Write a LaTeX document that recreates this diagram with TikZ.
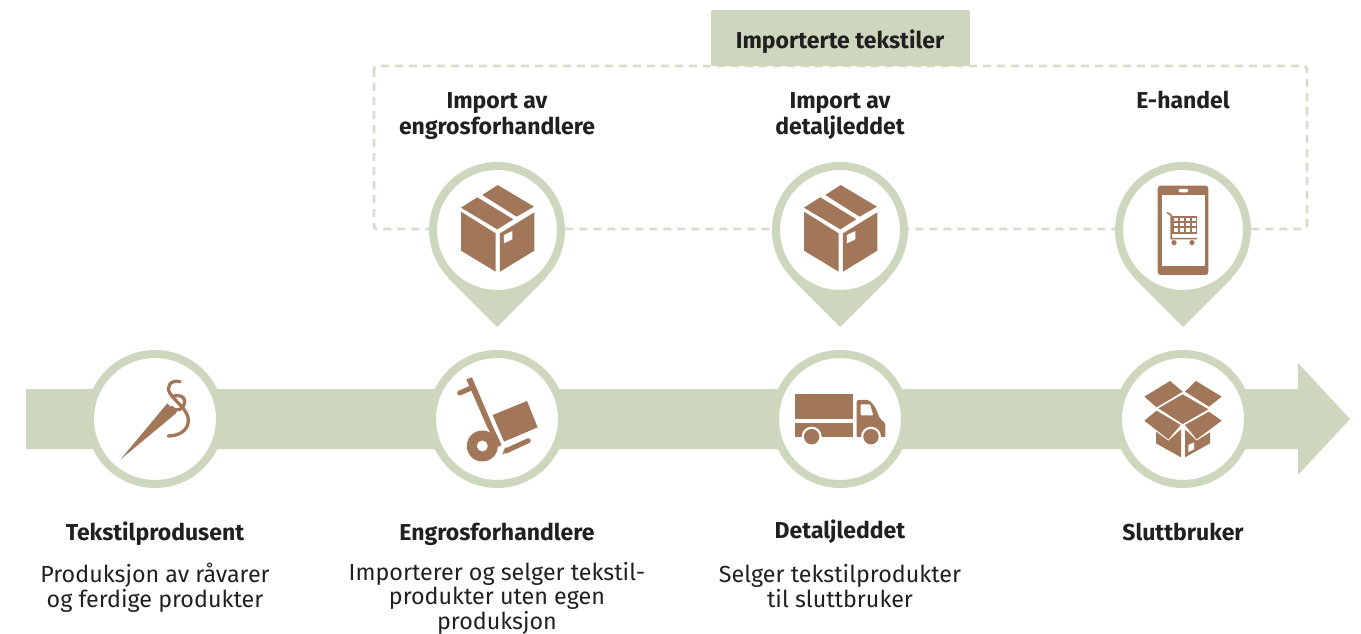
\documentclass[tikz,border=0pt]{standalone}
\usepackage{fontspec}
\setmainfont{Fira Sans}
\definecolor{sage}{HTML}{CCD7BE}
\definecolor{dashc}{HTML}{D6DEC9}
\definecolor{brown}{HTML}{A27659}
\definecolor{ink}{HTML}{231F20}
\tikzset{
  x=1pt,y=-1pt,
  boldtxt/.style={font=\fontsize{23}{26}\selectfont\bfseries,text=ink,align=center,inner sep=0pt},
  regtxt/.style={font=\fontsize{23.3}{25}\selectfont,text=ink,align=center,inner sep=0pt},
  ring/.style={circle,draw=sage,line width=8pt,fill=white,minimum size=130pt,inner sep=0pt},
  pinring/.style={ring,minimum size=128pt},
  icon/.style={fill=brown,draw=none},
  gap/.style={fill=white,draw=none},
  thread/.style={draw=brown,line width=3.3pt,line cap=round,fill=none},
}
\newcommand{\closedbox}{%
  \fill[icon] (172,105)--(218,75)--(327,140)--(275,170)--cycle;
  \fill[icon] (108,143)--(157,112)--(265,178)--(217,208)--cycle;
  \fill[icon] (108,155)--(212,220)--(212,335)--(108,272)--cycle;
  \fill[icon] (225,220)--(328,157)--(328,272)--(225,335)--cycle;
  \fill[gap] (237,225)--(262,213)--(262,238)--(237,250)--cycle;
}
\newcommand{\pin}[1]{%
  \fill[sage] (#1,327)--(#1-49,278)--(#1+49,278)--cycle;
  \node[pinring] at (#1,230) {};
}
\begin{document}
\begin{tikzpicture}
\useasboundingbox (0,0) rectangle (1361,634);
% main arrow
\fill[sage] (26,389)--(1298,389)--(1298,363)--(1350,419)--(1298,475)--(1298,449)--(26,449)--cycle;
% dashed frame
\draw[dashc,line width=2.6pt,dash pattern=on 8pt off 6pt,rounded corners=3pt] (374,66) rectangle (1307,229);
% tab
\fill[sage,rounded corners=2pt] (711,66)--(711,10)--(970,10)--(970,66)--cycle;
\node[boldtxt] (tab) at (840,42) {Importerte tekstiler};
% pins
\pin{497}\pin{840}\pin{1183}
% main rings
\node[ring] (c1) at (155,419) {};
\node[ring] (c2) at (497,419) {};
\node[ring] (c3) at (840,419) {};
\node[ring] (c4) at (1183,419) {};
% top labels
\node[boldtxt] (l1) at (497,116) {Import av\\engrosforhandlere};
\node[boldtxt] (l2) at (840,116) {Import av\\detaljleddet};
\node[boldtxt] (l3) at (1183,100) {E-handel};
% bottom labels
\node[boldtxt] (b1) at (155,534) {Tekstilprodusent};
\node[boldtxt] (b2) at (497,534) {Engrosforhandlere};
\node[boldtxt] (b3) at (840,532) {Detaljleddet};
\node[boldtxt] (b4) at (1183,532) {Sluttbruker};
\node[regtxt] (d1) at (155,587.5) {Produksjon av råvarer\\og ferdige produkter};
\node[regtxt] (d2) at (497,598) {Importerer og selger tekstil-\\[-0.5pt]produkter uten egen\\[-0.5pt]produksjon};
\node[regtxt] (d3) at (840,586.5) {Selger tekstilprodukter\\til sluttbruker};
% box icons
\begin{scope}[shift={(425,160)},x=0.3333pt,y=-0.3333pt]\closedbox\end{scope}
\begin{scope}[shift={(768,160)},x=0.3333pt,y=-0.3333pt]\closedbox\end{scope}
% phone
\begin{scope}[shift={(1110,160)},x=0.3333pt,y=-0.3333pt]
  \fill[icon,rounded corners=3pt] (143,77) rectangle (295,345);
  \fill[gap] (155,105) rectangle (285,318);
  \fill[gap,rounded corners=1.5pt] (205,87) rectangle (235,97);
  \draw[brown,line width=1.5pt,line cap=round] (172,158)--(183,165)--(183,236)--(260,236);
  \fill[icon] (187,168)--(262,168)--(262,222)--(187,222)--cycle;
  \foreach \i in {0,1,2,3} \foreach \j in {0,1,2}
    \fill[gap] (193+\i*17.5,174+\j*15.5) rectangle ++(11,10);
  \fill[icon] (192,248) circle[radius=2.6pt] (246,248) circle[radius=2.6pt];
\end{scope}
% needle
\begin{scope}[shift={(90,350)},x=0.3333pt,y=-0.3333pt]
  \fill[icon] (92,328)--(232,160)--(243,172)--(262,178)--(258,190)--cycle;
  \draw[thread] (270,95) .. controls (240,88) and (228,112) .. (240,130)
     .. controls (255,155) and (298,180) .. (295,215)
     .. controls (292,245) and (262,258) .. (235,258);
  \draw[thread] (252,138) .. controls (285,130) and (295,160) .. (270,178)
     .. controls (262,183) and (252,180) .. (245,172);
\end{scope}
% trolley
\begin{scope}[shift={(430,350)},x=0.3333pt,y=-0.3333pt]
  \fill[icon] (109,88)--(126,82)--(190,232)--(215,285)--(205,290)--(172,232)--cycle;
  \draw[brown,line width=5pt,line cap=round] (89,129)--(128,112);
  \fill[icon] (188,195)--(291,153)--(323,232)--(222,275)--cycle;
  \fill[icon,even odd rule] (157,288) circle[radius=15.5pt] (157,288) circle[radius=5.6pt];
  \draw[brown,line width=5pt,line cap=round] (228,303)--(295,272);
  \fill[icon] (217,315)--(226,292)--(240,297)--cycle;
\end{scope}
% truck
\begin{scope}[shift={(770,350)},x=0.3333pt,y=-0.3333pt]
  \fill[icon] (75,132) rectangle (249,207);
  \fill[icon] (75,218) rectangle (249,262);
  \fill[icon,rounded corners=2pt] (260,150)--(298,150)--(316,172)--(330,207)--(346,218)--(346,262)--(260,262)--cycle;
  \fill[gap,rounded corners=1pt] (272,163)--(300,163)--(310,196)--(272,196)--cycle;
  \fill[gap] (125,260) circle[radius=10pt] (303,260) circle[radius=10pt];
  \fill[gap] (75,262) rectangle (346,290);
  \fill[icon] (125,260) circle[radius=7.7pt] (303,260) circle[radius=7.7pt];
\end{scope}
% open box
\begin{scope}[shift={(1110,350)},x=0.3333pt,y=-0.3333pt]
  \fill[icon] (103,140)--(180,93)--(218,125)--(140,172)--cycle;
  \fill[icon] (225,125)--(258,93)--(335,140)--(297,170)--cycle;
  \fill[icon] (145,175)--(218,133)--(295,178)--(218,222)--cycle;
  \fill[icon] (103,212)--(140,182)--(212,225)--(175,268)--cycle;
  \fill[icon] (225,225)--(297,185)--(335,212)--(260,268)--cycle;
  \fill[icon] (138,245)--(175,272)--(213,238)--(213,322)--(138,280)--cycle;
  \fill[icon] (225,238)--(260,272)--(300,247)--(300,280)--(225,322)--cycle;
  \fill[gap] (235,285)--(252,277)--(252,298)--(235,306)--cycle;
\end{scope}
\end{tikzpicture}
\end{document}
